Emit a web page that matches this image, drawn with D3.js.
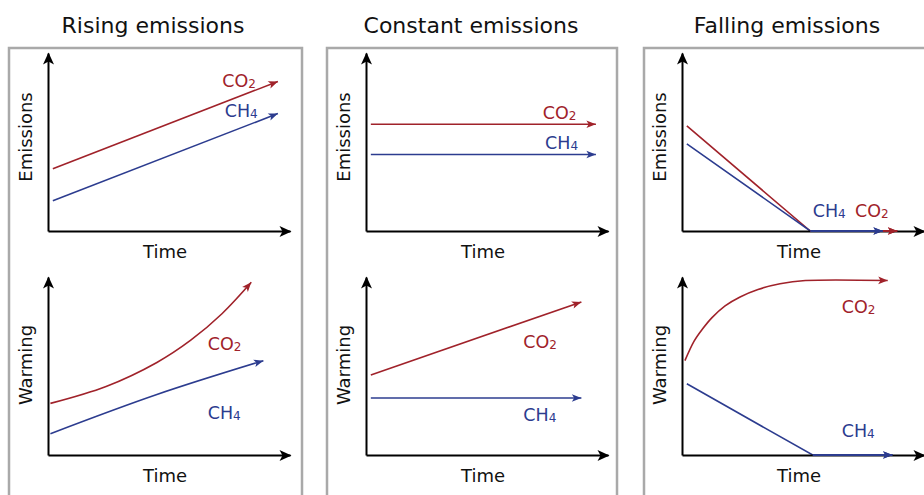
<!DOCTYPE html>
<html>
<head>
<meta charset="utf-8">
<script src="https://cdn.jsdelivr.net/npm/d3@7"></script>
<style>
  body { margin: 0; background: #fff; }
  svg { display: block; font-family: "DejaVu Sans", Verdana, sans-serif; }
</style>
</head>
<body>
<script>
'use strict'

// ---- data (time, value) in arbitrary 0..10 units ----
const panelTitles = ['Rising emissions', 'Constant emissions', 'Falling emissions'];
const rowLabels = ['Emissions', 'Warming'];
const xLabel = 'Time';
const gases = ['CO2', 'CH4'];

const risingEmissionsCO2 = [[0.2, 3.5], [9.5, 8.4]];
const risingEmissionsCH4 = [[0.2, 1.7], [9.5, 6.6]];
const risingWarmingCO2 = [[0.1, 2.9], [2.4, 3.85], [4.5, 5.2], [5.9, 6.45], [7.2, 7.95], [8.4, 9.7]];
const risingWarmingCH4 = [[0.1, 1.2], [4.5, 3.4], [8.9, 5.3]];

const constantEmissionsCO2 = [[0.2, 6.0], [9.5, 6.0]];
const constantEmissionsCH4 = [[0.2, 4.3], [9.5, 4.3]];
const constantWarmingCO2 = [[0.2, 4.5], [8.9, 8.6]];
const constantWarmingCH4 = [[0.2, 3.2], [8.9, 3.2]];

const fallingEmissionsCO2 = [[0.2, 5.9], [5.3, 0], [8.9, 0]];
const fallingEmissionsCH4 = [[0.2, 4.9], [5.3, 0], [8.3, 0]];
const fallingWarmingCO2 = [[0.12, 5.3], [0.5, 6.4], [0.83, 7.05], [1.24, 7.72], [1.78, 8.38],
  [2.4, 8.88], [3.14, 9.3], [4.05, 9.62], [5.1, 9.8], [8.5, 9.8]];
const fallingWarmingCH4 = [[0.2, 4.0], [5.4, 0], [8.7, 0]];

// [col][row] -> [CO2, CH4]
const series = [
  [[risingEmissionsCO2, risingEmissionsCH4], [risingWarmingCO2, risingWarmingCH4]],
  [[constantEmissionsCO2, constantEmissionsCH4], [constantWarmingCO2, constantWarmingCH4]],
  [[fallingEmissionsCO2, fallingEmissionsCH4], [fallingWarmingCO2, fallingWarmingCH4]]
];
// which series are smooth curves
const smooth = [
  [[false, false], [true, true]],
  [[false, false], [false, false]],
  [[false, false], [true, false]]
];

// where the gas names sit, in the same units
const labelAt = [
  [[[7.2, 8.1], [7.3, 6.4]], [[6.6, 5.9], [6.6, 2.0]]],
  [[[7.3, 6.3], [7.4, 4.6]], [[6.5, 6.0], [6.5, 1.9]]],
  [[[7.15, 0.8], [5.4, 0.8]], [[6.6, 8.0], [6.6, 1.0]]]
];

// ---- layout ----
const W = 924, H = 495;
const colX = [48, 366, 682];
const rowY = [231, 455];
const axW = 242, axH = 178;
const boxX = [9, 327, 644], boxW = [293, 290, 300];
const colors = {CO2: '#a0222a', CH4: '#2c3c8f'};

const svg = d3.select('body').append('svg')
  .attr('width', W).attr('height', H);

const defs = svg.append('defs');
defs.append('marker')
  .attr('id', 'axArrow')
  .attr('markerUnits', 'userSpaceOnUse')
  .attr('viewBox', '-3 -6 15 12')
  .attr('refX', 9).attr('refY', 0)
  .attr('markerWidth', 15).attr('markerHeight', 12)
  .attr('orient', 'auto')
  .append('path')
  .attr('d', 'M-2,-5.5L10,0L-2,5.5L1,0Z')
  .attr('fill', '#000');

gases.forEach(g => {
  defs.append('marker')
    .attr('id', 'arr' + g)
    .attr('markerUnits', 'userSpaceOnUse')
    .attr('viewBox', '-3 -5 13 10')
    .attr('refX', 8).attr('refY', 0)
    .attr('markerWidth', 13).attr('markerHeight', 10)
    .attr('orient', 'auto')
    .append('path')
    .attr('d', 'M-1.5,-3.8L8,0L-1.5,3.8L0.8,0Z')
    .attr('fill', colors[g]);
});

// panel boxes
svg.selectAll('rect.box')
  .data(boxX)
  .enter()
  .append('rect')
  .attr('class', 'box')
  .attr('x', d => d)
  .attr('y', 48)
  .attr('width', (d, i) => boxW[i])
  .attr('height', 480)
  .attr('fill', 'none')
  .attr('stroke', '#a9a9a9')
  .attr('stroke-width', 2.5);

// titles
svg.selectAll('text.title')
  .data(panelTitles)
  .enter()
  .append('text')
  .attr('class', 'title')
  .attr('x', (d, i) => colX[i] + 105)
  .attr('y', 33)
  .attr('text-anchor', 'middle')
  .attr('font-size', 22)
  .attr('fill', '#111')
  .text(d => d);

const x = d3.scaleLinear().domain([0, 10]).range([0, axW]);
const y = d3.scaleLinear().domain([0, 10]).range([axH, 0]);

const line = d3.line().x(d => x(d[0])).y(d => y(d[1]));

panelTitles.forEach((t, c) => {
  rowY.forEach((oy, r) => {
    const g = svg.append('g')
      .attr('transform', 'translate(' + [colX[c], oy - axH] + ')');

    // series
    series[c][r].forEach((pts, k) => {
      const gas = gases[k];
      line.curve(smooth[c][r][k] ? d3.curveCatmullRom.alpha(0.5) : d3.curveLinear);
      g.append('path')
        .attr('d', line(pts))
        .attr('fill', 'none')
        .attr('stroke', colors[gas])
        .attr('stroke-width', 1.6)
        .attr('marker-end', 'url(#arr' + gas + ')');
    });

    // axes
    const xa = g.append('g')
      .attr('transform', 'translate(0,' + axH + ')')
      .call(d3.axisBottom(x).tickValues([]).tickSizeOuter(0));
    const ya = g.append('g')
      .call(d3.axisLeft(y).tickValues([]).tickSizeOuter(0));
    [xa, ya].forEach(a => a.select('.domain')
      .attr('stroke', '#000')
      .attr('stroke-width', 2)
      .attr('marker-end', 'url(#axArrow)'));

    // flat parts lying on the time axis go on top of it
    series[c][r].forEach((pts, k) => {
      const flat = pts.filter(d => d[1] === 0);
      if (flat.length < 2) return;
      const gas = gases[k];
      g.append('path')
        .attr('d', line.curve(d3.curveLinear)(flat))
        .attr('fill', 'none')
        .attr('stroke', colors[gas])
        .attr('stroke-width', 2)
        .attr('marker-end', 'url(#arr' + gas + ')');
    });

    // gas labels
    gases.forEach((gas, k) => {
      const p = labelAt[c][r][k];
      const tx = g.append('text')
        .attr('x', x(p[0]))
        .attr('y', y(p[1]))
        .attr('font-size', 17.5)
        .attr('fill', colors[gas]);
      tx.append('tspan').text(gas.slice(0, 2));
      tx.append('tspan').attr('font-size', 12).attr('dy', 1).text(gas.slice(2));
    });

    // axis labels
    g.append('text')
      .attr('transform', 'translate(' + [-16, axH / 2 - 5 + (r === 0 ? 0 : 4)] + ') rotate(-90)')
      .attr('text-anchor', 'middle')
      .attr('font-size', 18)
      .attr('fill', '#111')
      .text(rowLabels[r]);

    g.append('text')
      .attr('x', 117)
      .attr('y', axH + 27)
      .attr('text-anchor', 'middle')
      .attr('font-size', 18)
      .attr('fill', '#111')
      .text(xLabel);
  });
});
</script>
</body>
</html>
